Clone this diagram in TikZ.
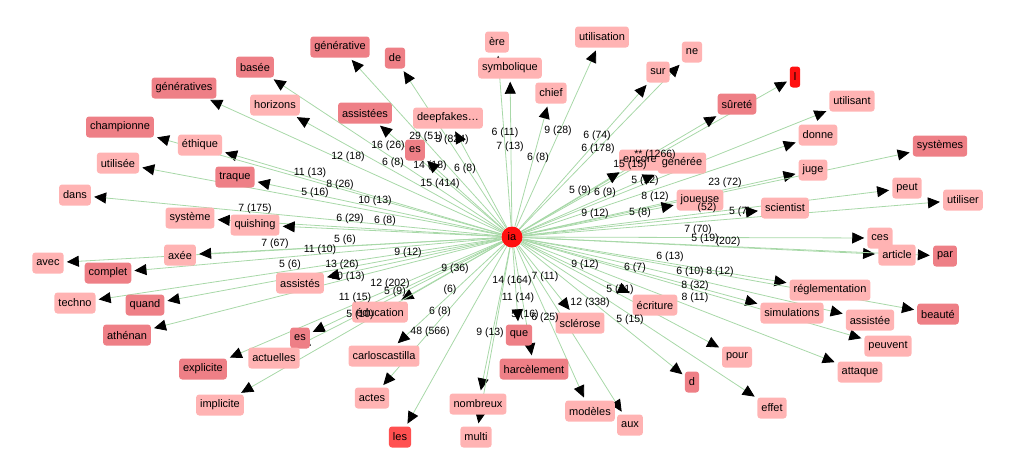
\documentclass[tikz,border=0pt]{standalone}
\usepackage{fontspec}
\setmainfont{Liberation Sans}
\usetikzlibrary{arrows.meta,backgrounds}
\definecolor{lp}{HTML}{FFB3B3}
\definecolor{md}{HTML}{EE7F86}
\definecolor{rd}{HTML}{FF1010}
\definecolor{rl}{HTML}{FF5050}
\definecolor{eg}{HTML}{A8D8A8}
\tikzset{
 wb/.style={rounded corners=3pt,inner sep=4pt,minimum height=21pt,font=\fontsize{11}{13}\selectfont},
 lp/.style={wb,fill=lp}, md/.style={wb,fill=md}, rl/.style={wb,fill=rl}, rd/.style={wb,fill=rd},
 el/.style={font=\fontsize{10.5}{12}\selectfont,inner sep=0pt},
 ed/.style={draw=eg,line width=0.8pt,-{Triangle[length=12pt,width=11pt,color=black,fill=black]},shorten >=3pt}
}
\begin{document}
\begin{tikzpicture}[x=1pt,y=-1pt]
\useasboundingbox (0,0) rectangle (1020,472);
\foreach \n/\x/\y/\s/\t in {
 ere/497/42/lp/ère, symb/510/68/lp/symbolique, util/602/37/lp/utilisation, ne/692/52/lp/ne,
 chief/551/93/lp/chief, sur/658/72/lp/sur, l/795/77/rd/l, surete/737/104/md/sûreté,
 utilisant/852/101/lp/utilisant, donne/818/135/lp/donne, juge/813/170/lp/juge,
 systemes/940/146/md/systèmes, peut/907/188/lp/peut, utiliser/963/200/lp/utiliser,
 ces/880/238/lp/ces, article/897/255/lp/article, par/945/256/md/par,
 regl/830/290/lp/réglementation, simul/792/313/lp/simulations, assistee/870/320/lp/assistée,
 beaute/938/314/md/beauté, peuvent/888/346/lp/peuvent, attaque/860/372/lp/attaque,
 pour/737/357/lp/pour, d/692/382/md/d, effet/772/408/lp/effet, aux/630/425/lp/aux,
 modeles/590/411/lp/modèles, harc/534/369/md/harcèlement, que/519/335/md/que,
 nombreux/478/404/lp/nombreux, multi/476/437/lp/multi, les/400/437/rl/les,
 actes/372/398/lp/actes, carlos/384/356/lp/carloscastilla, educ/380/312/lp/éducation,
 es/300/338/md/es, actuelles/274/358/lp/actuelles, explicite/203/369/md/explicite,
 implicite/220/405/lp/implicite, athenan/127/335/md/athénan, quand/145/305/md/quand,
 techno/75/303/lp/techno, complet/108/273/md/complet, avec/48/263/lp/avec,
 axee/180/255/lp/axée, assistes/300/283/lp/assistés, systeme/190/218/lp/système,
 quishing/255/225/lp/quishing, dans/75/195/lp/dans, utilisee/118/163/lp/utilisée,
 ethique/200/145/lp/éthique, champ/120/127/md/championne, traque/235/177/md/traque,
 generatives/184/88/md/génératives, basee/255/67/md/basée, horizons/275/105/lp/horizons,
 generative/340/47/md/générative, de/395/58/md/de, assistees/365/113/md/assistées,
 es2/415/150/md/es, deep/448/118/lp/deepfakes…, sclerose/580/323/lp/sclérose,
 ecriture/655/305/lp/écriture, encore/640/160/lp/encore, generee/682/163/lp/générée,
 joueuse/700/200/lp/joueuse, scientist/785/208/lp/scientist}
 { \node[\s] (\n) at (\x,\y) {\t}; }
\node[circle,fill=rd,inner sep=1pt,minimum size=21pt,font=\fontsize{11}{13}\selectfont] (ia) at (512,237) {ia};
\begin{scope}[on background layer]
\foreach \n in {ere,symb,util,ne,chief,sur,l,surete,utilisant,donne,juge,systemes,peut,utiliser,ces,article,par,regl,simul,assistee,beaute,peuvent,attaque,pour,d,effet,aux,modeles,harc,que,nombreux,multi,les,actes,carlos,educ,es,actuelles,explicite,implicite,athenan,quand,techno,complet,avec,axee,assistes,systeme,quishing,dans,utilisee,ethique,champ,traque,generatives,basee,horizons,generative,de,assistees,es2,deep,sclerose,ecriture,encore,generee,joueuse,scientist}
 { \draw[ed] (ia) -- (\n); }
\end{scope}
\foreach \x/\y/\t in {
 348/157/12 (18), 388/146/16 (26), 426/137/29 (51), 452/140/3 (824), 505/133/6 (11), 510/147/7 (13),
 538/158/6 (8), 558/131/9 (28), 597/136/6 (74), 598/149/6 (178), 393/163/6 (8), 430/166/14 (18),
 465/169/6 (8), 440/184/15 (414), 310/173/11 (13), 340/185/8 (26), 315/193/5 (16), 375/201/10 (13),
 255/209/7 (175), 350/219/6 (29), 385/221/6 (8), 275/244/7 (67), 320/250/11 (10), 345/240/5 (6),
 408/253/9 (12), 290/265/5 (6), 342/265/13 (26), 348/277/10 (13), 390/284/12 (202), 455/269/9 (36),
 395/292/5 (9), 355/298/11 (15), 450/290/(6), 360/315/5 (10), 440/312/6 (8), 430/332/48 (566),
 490/333/9 (13), 512/281/14 (164), 545/277/7 (11), 518/298/11 (14), 525/315/5 (16), 545/318/6 (25),
 585/265/9 (12), 590/303/12 (338), 620/290/5 (71), 630/320/5 (15), 635/268/6 (7), 670/257/6 (13),
 690/272/6 (10), 720/272/8 (12), 695/286/8 (32), 695/298/8 (11), 698/230/7 (70), 705/239/5 (19),
 728/242/(202), 595/214/9 (12), 580/191/5 (9), 605/193/6 (9), 630/165/15 (15), 655/155/** (1266),
 645/181/5 (12), 725/183/23 (72), 655/197/8 (12), 640/213/5 (8), 707/208/(52), 740/212/5 (7)}
 { \node[el] at (\x,\y) {\t}; }
\end{tikzpicture}
\end{document}
